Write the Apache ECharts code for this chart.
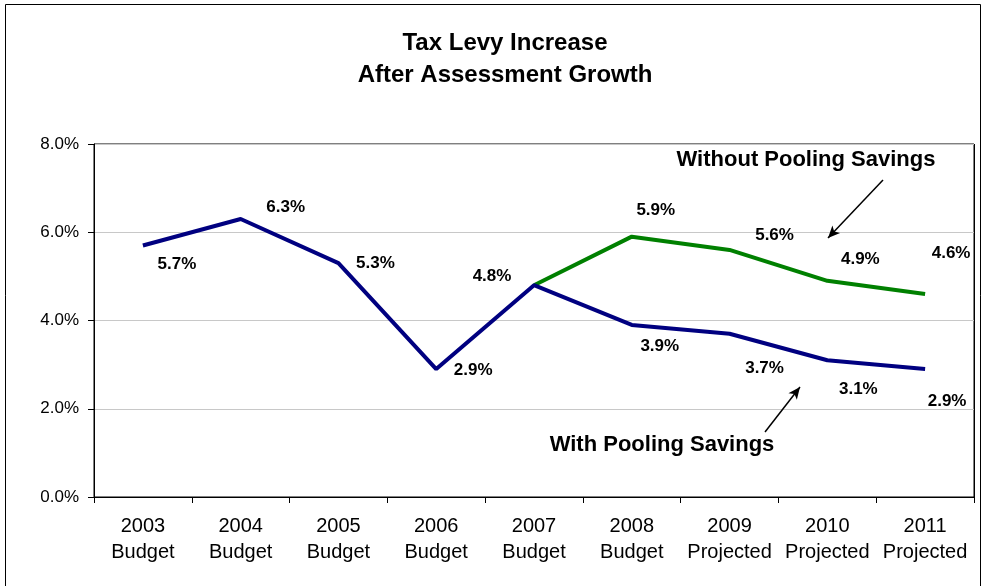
<!DOCTYPE html>
<html><head><meta charset="utf-8">
<script src="https://cdn.jsdelivr.net/npm/echarts@6/dist/echarts.min.js"></script>
<style>html,body{margin:0;padding:0;background:#fff}#c{width:982px;height:586px}</style>
</head><body><div id="c"></div>
<script>
var categories = ['2003\nBudget','2004\nBudget','2005\nBudget','2006\nBudget','2007\nBudget','2008\nBudget','2009\nProjected','2010\nProjected','2011\nProjected'];
var withPooling = [5.7, 6.3, 5.3, 2.9, 4.8, 3.9, 3.7, 3.1, 2.9];
var withoutPooling = [null, null, null, null, 4.8, 5.9, 5.6, 4.9, 4.6];
var yTicks = [0, 2, 4, 6, 8];
var withOffsets = [[34,19],[45,-12],[37,0],[37,1],[-42,-9],[28,21],[35,35],[31,29],[22,32]];
var withoutOffsets = [null,null,null,null,null,[24,-26],[45,-15],[33,-21],[26,-41]];

var labelFont = {fontFamily:'Liberation Sans, Arial', fontWeight:'bold', fontSize:17, color:'#000'};
function mk(vals, offs){
  return vals.map(function(v,i){
    if(v===null) return null;
    var o = offs[i];
    return {value:v, label: o ? Object.assign({show:true, position:'inside', offset:o, formatter: function(p){return p.value.toFixed(1)+'%';}}, labelFont) : {show:false}};
  });
}
var chart = echarts.init(document.getElementById('c'));
chart.setOption({
  animation:false,
  backgroundColor:'#fff',
  title:{
    text:'Tax Levy Increase\nAfter Assessment Growth',
    left:500, top:22, textAlign:'center',
    textStyle:{fontFamily:'Liberation Sans, Arial', fontWeight:'bold', fontSize:24, lineHeight:32, color:'#000'}
  },
  grid:{left:94, right:8, top:144, bottom:89, show:true, borderColor:'#000', borderWidth:1},
  xAxis:{
    type:'category', data:categories, boundaryGap:true,
    axisLine:{lineStyle:{color:'#000', width:1}},
    axisTick:{show:true, length:6, interval:0, lineStyle:{color:'#000'}},
    axisLabel:{interval:0, fontFamily:'Liberation Sans, Arial', fontSize:20, color:'#000', lineHeight:26, margin:16}
  },
  yAxis:{
    type:'value', min:0, max:8, interval:2,
    axisLine:{show:true, lineStyle:{color:'#000', width:1}},
    axisTick:{show:true, length:6, lineStyle:{color:'#000'}},
    splitLine:{show:true, lineStyle:{color:'#c8c8c8', width:1}},
    axisLabel:{fontFamily:'Liberation Sans, Arial', fontSize:17, color:'#000', margin:15, formatter:function(v){return v.toFixed(1)+'%';}}
  },
  series:[
    {type:'line', name:'Without Pooling Savings', data:mk(withoutPooling, withoutOffsets), symbol:'circle', symbolSize:0.1, showSymbol:true, lineStyle:{color:'#008000', width:4}, itemStyle:{color:'#008000'}, z:2,
     markLine:{silent:true, symbol:['none','arrow'], symbolSize:[8,12], lineStyle:{color:'#000', width:1.5, type:'solid'}, label:{show:false},
       data:[[{x:883,y:180},{x:828,y:238}], [{x:765,y:432},{x:800,y:387}]]}},
    {type:'line', name:'With Pooling Savings', data:mk(withPooling, withOffsets), symbol:'circle', symbolSize:0.1, showSymbol:true, lineStyle:{color:'#000080', width:4}, itemStyle:{color:'#000080'}, z:3}
  ],
  graphic:[
    {type:'rect', shape:{x:5.5, y:4.5, width:975, height:620}, style:{fill:'none', stroke:'#000', lineWidth:1}, silent:true},
    {type:'line', shape:{x1:974.5, y1:144, x2:974.5, y2:497}, style:{stroke:'#000', lineWidth:1}, silent:true},
    {type:'text', x:806, y:160, style:{text:'Without Pooling Savings', x:0, y:0, textAlign:'center', textVerticalAlign:'middle', font:'bold 22px "Liberation Sans", Arial', fill:'#000'}},
    {type:'text', x:662, y:445, style:{text:'With Pooling Savings', x:0, y:0, textAlign:'center', textVerticalAlign:'middle', font:'bold 22px "Liberation Sans", Arial', fill:'#000'}}
  ]
});
</script></body></html>
